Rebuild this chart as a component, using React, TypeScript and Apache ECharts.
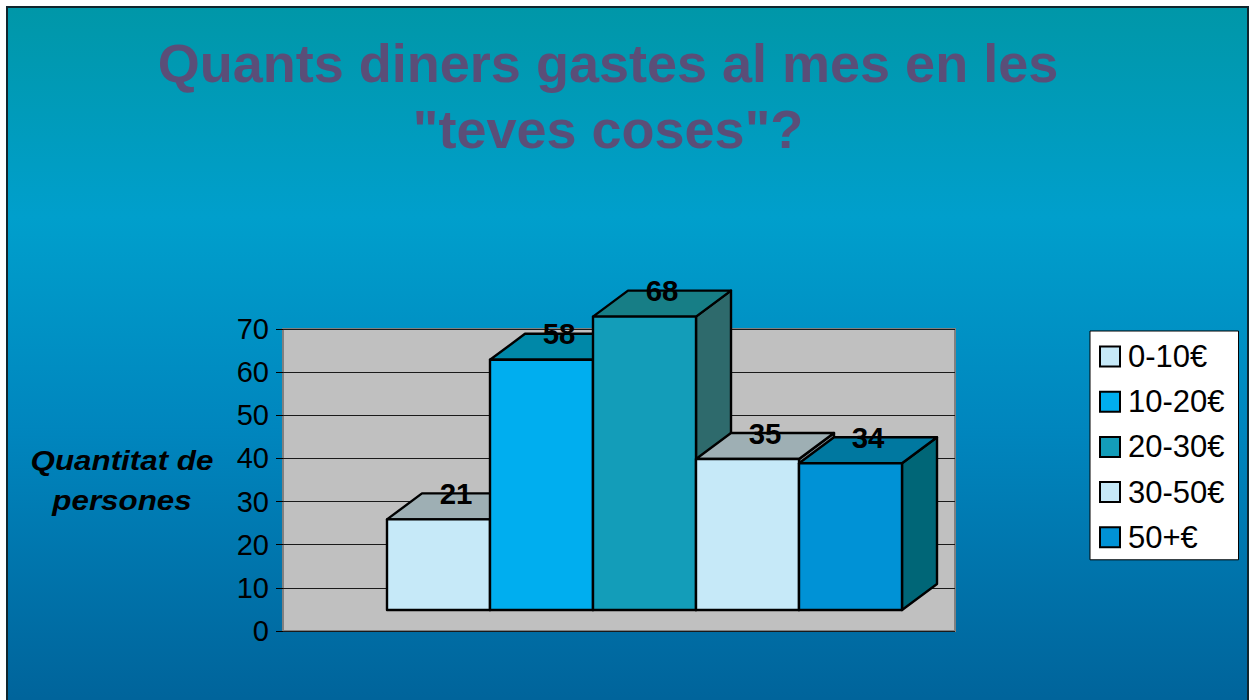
import React, { useEffect, useRef } from "react";
import * as echarts from "echarts";

const seriesNames = ["0-10€", "10-20€", "20-30€", "30-50€", "50+€"];
const values = [21, 58, 68, 35, 34];
const frontColors = ["#C6E9F8", "#00AEEF", "#139DB9", "#C6E9F8", "#0092D6"];
const topColors = ["#9EAFB4", "#0088A8", "#177E86", "#9EAFB4", "#0078A0"];
const sideColors = ["#7F8E95", "#006E8A", "#2E6A6C", "#7F8E95", "#006677"];
const yMin = 0;
const yMax = 70;
const yInterval = 10;
const titleLines = ["Quants diners gastes al mes en les", "\"teves coses\"?"];
const axisNameLines = ["Quantitat de", "persones"];

const FONT = '"Liberation Sans", Arial, sans-serif';

export default function App() {
  const ref = useRef<HTMLDivElement>(null);
  useEffect(() => {
    const chart = echarts.init(ref.current as HTMLDivElement, null, { renderer: "svg" });
    const DX = 35;
    const DY = -26;

    const renderItem = (params: any, api: any) => {
      const x = api.value(0);
      const v = api.value(1);
      const i = params.seriesIndex;
      const w = api.size([1, 0])[0];
      const p0 = api.coord([x, 0]);
      const p1 = api.coord([x, v]);
      const l = p0[0] - w / 2;
      const r = p0[0] + w / 2;
      const b = p0[1];
      const t = p1[1];
      const stroke = { stroke: "#000", lineWidth: 2.4, lineJoin: "round" };
      return {
        type: "group",
        children: [
          {
            type: "polygon",
            shape: { points: [[r, t], [r + DX, t + DY], [r + DX, b + DY], [r, b]] },
            style: { fill: sideColors[i], ...stroke },
          },
          {
            type: "polygon",
            shape: { points: [[l, t], [l + DX, t + DY], [r + DX, t + DY], [r, t]] },
            style: { fill: topColors[i], ...stroke },
          },
          {
            type: "rect",
            shape: { x: l, y: t, width: r - l, height: b - t },
            style: { fill: frontColors[i], ...stroke },
          },
          {
            type: "text",
            z2: 20,
            x: (l + r) / 2 + DX / 2,
            y: t + DY,
            scaleX: 1.05,
            scaleY: 1.05,
            style: {
              text: String(v),
              x: 0,
              y: 0,
              align: "center",
              verticalAlign: "middle",
              font: `bold 28px ${FONT}`,
              fill: "#000",
            },
          },
        ],
      };
    };

    const option: any = {
      animation: false,
      backgroundColor: "#ffffff",
      graphic: [
        {
          type: "rect",
          z: -100,
          shape: { x: 7, y: 7, width: 1241, height: 700 },
          style: {
            fill: new echarts.graphic.LinearGradient(0, 0, 0, 1, [
              { offset: 0, color: "#0097A8" },
              { offset: 0.3, color: "#009FCC" },
              { offset: 0.6, color: "#0086BE" },
              { offset: 1, color: "#00639A" },
            ]),
            stroke: "#10262E",
            lineWidth: 2,
          },
        },
        {
          type: "text",
          x: 608,
          y: 63,
          style: {
            text: titleLines[0],
            font: `bold 54px ${FONT}`,
            fill: "#5A4E78",
            align: "center",
            verticalAlign: "middle",
          },
        },
        {
          type: "text",
          x: 608,
          y: 129,
          style: {
            text: titleLines[1],
            font: `bold 54px ${FONT}`,
            fill: "#5A4E78",
            align: "center",
            verticalAlign: "middle",
          },
        },
        {
          type: "text",
          x: 122,
          y: 460,
          scaleX: 1.12,
          style: {
            text: axisNameLines[0],
            x: 0,
            y: 0,
            font: `italic bold 28px ${FONT}`,
            fill: "#000",
            align: "center",
            verticalAlign: "middle",
          },
        },
        {
          type: "text",
          x: 122,
          y: 500,
          scaleX: 1.12,
          style: {
            text: axisNameLines[1],
            x: 0,
            y: 0,
            font: `italic bold 28px ${FONT}`,
            fill: "#000",
            align: "center",
            verticalAlign: "middle",
          },
        },
      ],
      grid: [
        {
          left: 283,
          top: 329,
          width: 672,
          height: 302,
          show: true,
          backgroundColor: "#C0C0C0",
          borderColor: "#808080",
          borderWidth: 2,
        },
        { left: 387, top: 308, width: 515, height: 302 },
      ],
      xAxis: [
        { type: "category", gridIndex: 0, data: [""], show: false },
        { type: "category", gridIndex: 1, data: seriesNames, show: false },
      ],
      yAxis: [
        {
          type: "value",
          gridIndex: 0,
          min: yMin,
          max: yMax,
          interval: yInterval,
          axisLine: { show: false },
          axisTick: { show: true, length: 7, lineStyle: { color: "#000", width: 1 } },
          axisLabel: { fontSize: 29, color: "#000", margin: 14, fontFamily: FONT },
          splitLine: { show: true, lineStyle: { color: "#1a1a1a", width: 1 } },
        },
        { type: "value", gridIndex: 1, min: yMin, max: yMax, interval: yInterval, show: false },
      ],
      legend: {
        orient: "vertical",
        left: 1090,
        top: 331,
        padding: [10, 14, 7, 9],
        itemGap: 14.2,
        itemWidth: 20,
        itemHeight: 20,
        icon: "rect",
        backgroundColor: "#ffffff",
        borderColor: "#000",
        borderWidth: 1,
        itemStyle: { borderColor: "#000", borderWidth: 2 },
        textStyle: {
          fontSize: 31,
          color: "#000",
          fontFamily: FONT,
          lineHeight: 30,
          padding: [0, 0, 0, 3],
        },
        data: seriesNames,
      },
      series: values.map((v, i) => ({
        type: "custom",
        name: seriesNames[i],
        xAxisIndex: 1,
        yAxisIndex: 1,
        itemStyle: { color: frontColors[i] },
        data: [[i, v]],
        renderItem,
      })),
    };
    chart.setOption(option);
    return () => chart.dispose();
  }, []);
  return (
    <div
      ref={ref}
      style={{ position: "fixed", left: 0, top: 0, width: 1250, height: 700 }}
    />
  );
}
